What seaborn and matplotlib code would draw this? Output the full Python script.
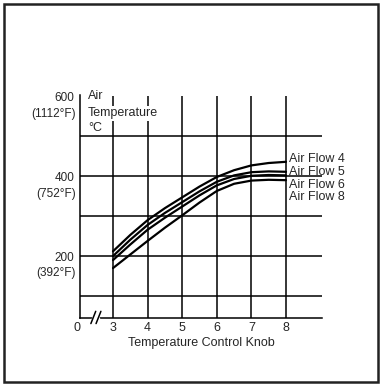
import matplotlib
matplotlib.use('Agg')
import matplotlib.pyplot as plt
from matplotlib.patches import Rectangle
import pandas as pd
import seaborn as sns

# valores (cada media posicion del mando)
knob = [3, 3.5, 4, 4.5, 5, 5.5, 6, 6.5, 7, 7.5, 8]
flow_4 = [212, 253, 290, 320, 347, 374, 398, 415, 427, 433, 436]
flow_5 = [200, 241, 278, 308, 335, 362, 386, 402, 410, 412, 411]
flow_6 = [190, 229, 266, 296, 324, 352, 377, 393, 401, 403, 402]
flow_8 = [170, 204, 238, 271, 302, 334, 363, 381, 389, 391, 390]
flow_names = ['Air Flow 4', 'Air Flow 5', 'Air Flow 6', 'Air Flow 8']
label_y = [443, 411, 379, 347]

knob_ticks = [3, 4, 5, 6, 7, 8]
y_ticks = [200, 400, 600]
y_tick_labels = ['200', '400', '600']
y_f_labels = ['(392°F)', '(752°F)', '(1112°F)']
grid_y = [100, 200, 300, 400, 500]

df = pd.DataFrame({
    'knob': knob * 4,
    'temp': flow_4 + flow_5 + flow_6 + flow_8,
    'flow': [n for n in flow_names for _ in knob],
})

sns.set_style('white')
plt.rcParams['font.family'] = ['Liberation Sans', 'DejaVu Sans']

fig = plt.figure(figsize=(3.81, 3.85), dpi=100)
ax = fig.add_axes([0.21, 0.174, 0.635, 0.579])

# rejilla
for g in grid_y:
    ax.axhline(g, color='black', lw=1.1, zorder=1)
ax.vlines(knob_ticks, 45, 600, color='black', lw=1.1, zorder=1)

# curvas
sns.lineplot(data=df, x='knob', y='temp', hue='flow', palette=['black'] * 4,
             linewidth=1.6, legend=False, ax=ax, zorder=3)

ax.set_xlim(2.046, 9.04)
ax.set_ylim(45, 603)

for sp in ['top', 'right']:
    ax.spines[sp].set_visible(False)
for sp in ['left', 'bottom']:
    ax.spines[sp].set_color('black')
    ax.spines[sp].set_linewidth(1.1)

ax.set_xticks(knob_ticks)
ax.set_xticklabels([str(k) for k in knob_ticks], fontsize=9)
ax.tick_params(axis='x', length=0, pad=3)
ax.set_yticks(y_ticks)
ax.set_yticklabels(y_tick_labels, fontsize=8.5)
ax.tick_params(axis='y', direction='in', length=5, width=1.1, pad=4)
for v, t in zip(y_ticks, y_f_labels):
    ax.annotate(t, xy=(0, v), xycoords=('axes fraction', 'data'),
                xytext=(-3, -12.5), textcoords='offset points',
                ha='right', va='center', fontsize=8.5)

ax.set_xlabel('Temperature Control Knob', fontsize=9, labelpad=2)
ax.set_ylabel('')

# "0" y corte del eje
ax.annotate('0', xy=(1.96, 0), xycoords=('data', 'axes fraction'),
            xytext=(0, -3), textcoords='offset points',
            ha='center', va='top', fontsize=9)
ax.plot([2.42, 2.57], [0, 0], transform=ax.get_xaxis_transform(),
        color='white', lw=2.5, clip_on=False, zorder=4)
for x0 in [2.36, 2.51]:
    ax.plot([x0, x0 + 0.14], [-0.025, 0.03], transform=ax.get_xaxis_transform(),
            color='black', lw=1.1, clip_on=False, zorder=5)

# titulo del eje y
ax.text(2.28, 600, 'Air', fontsize=9, ha='left', va='center')
ax.text(2.28, 557, 'Temperature', fontsize=9, ha='left', va='center', zorder=6,
        bbox=dict(facecolor='white', edgecolor='none', pad=1))
ax.text(2.28, 520, '°C', fontsize=9, ha='left', va='center')

# etiquetas de las curvas
for name, yv in zip(flow_names, label_y):
    ax.text(8.1, yv, name, fontsize=9, ha='left', va='center')

# marco exterior
fig.patches.append(Rectangle((0.01, 0.008), 0.982, 0.982, transform=fig.transFigure,
                             fill=False, edgecolor='#222222', lw=1.8))

plt.savefig('out.png', dpi=100)
plt.close(fig)
